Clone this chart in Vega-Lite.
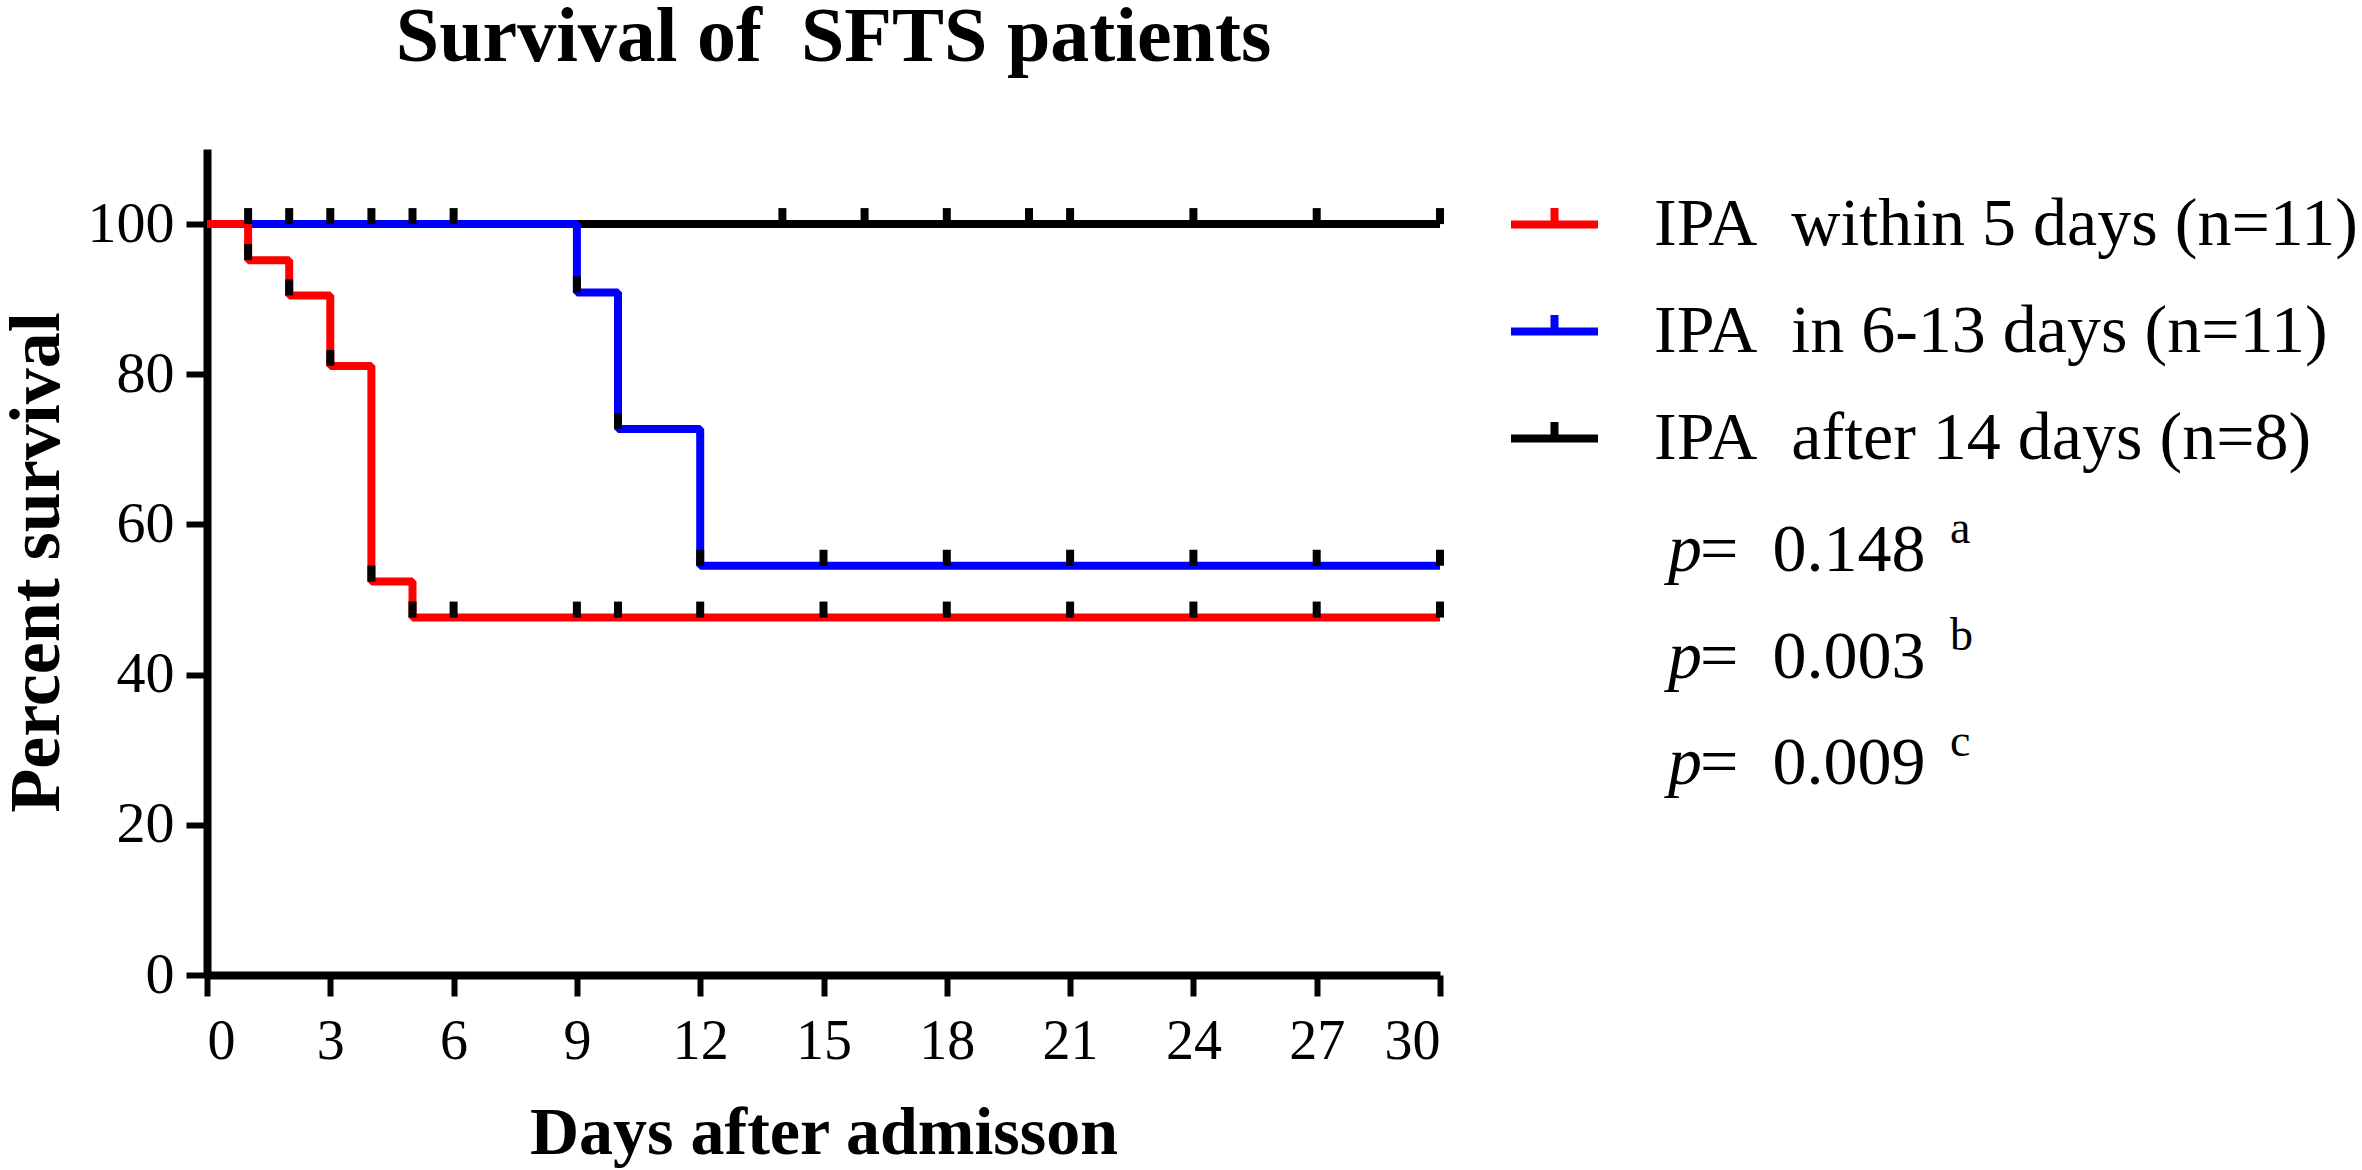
{
  "$schema": "https://vega.github.io/schema/vega-lite/v6.json",
  "autosize": {"type": "none"},
  "padding": {"left": 207, "top": 149, "right": 922, "bottom": 195},
  "width": 1233,
  "height": 826,
  "background": "white",
  "title": {
    "text": "Survival of\u00a0 SFTS patients",
    "font": "Liberation Serif",
    "fontSize": 78,
    "fontWeight": "bold",
    "color": "black",
    "anchor": "middle",
    "offset": 72,
    "dx": 10
  },
  "datasets": {
    "curves": [
      {"group": "IPA\u00a0 after 14 days (n=8)", "day": 0, "survival": 100},
      {"group": "IPA\u00a0 after 14 days (n=8)", "day": 30, "survival": 100},
      {"group": "IPA\u00a0 in 6-13 days (n=11)", "day": 0, "survival": 100},
      {"group": "IPA\u00a0 in 6-13 days (n=11)", "day": 9, "survival": 90.9},
      {"group": "IPA\u00a0 in 6-13 days (n=11)", "day": 10, "survival": 72.7},
      {"group": "IPA\u00a0 in 6-13 days (n=11)", "day": 12, "survival": 54.5},
      {"group": "IPA\u00a0 in 6-13 days (n=11)", "day": 30, "survival": 54.5},
      {"group": "IPA\u00a0 within 5 days (n=11)", "day": 0, "survival": 100},
      {"group": "IPA\u00a0 within 5 days (n=11)", "day": 1, "survival": 95.2},
      {"group": "IPA\u00a0 within 5 days (n=11)", "day": 2, "survival": 90.5},
      {"group": "IPA\u00a0 within 5 days (n=11)", "day": 3, "survival": 81.1},
      {"group": "IPA\u00a0 within 5 days (n=11)", "day": 4, "survival": 52.4},
      {"group": "IPA\u00a0 within 5 days (n=11)", "day": 5, "survival": 47.6},
      {"group": "IPA\u00a0 within 5 days (n=11)", "day": 30, "survival": 47.6}
    ],
    "censored": [
      {"group": "within", "day": 1, "survival": 95.2},
      {"group": "within", "day": 2, "survival": 90.5},
      {"group": "within", "day": 3, "survival": 81.1},
      {"group": "within", "day": 4, "survival": 52.4},
      {"group": "within", "day": 5, "survival": 47.6},
      {"group": "within", "day": 6, "survival": 47.6},
      {"group": "within", "day": 9, "survival": 47.6},
      {"group": "within", "day": 10, "survival": 47.6},
      {"group": "within", "day": 12, "survival": 47.6},
      {"group": "within", "day": 15, "survival": 47.6},
      {"group": "within", "day": 18, "survival": 47.6},
      {"group": "within", "day": 21, "survival": 47.6},
      {"group": "within", "day": 24, "survival": 47.6},
      {"group": "within", "day": 27, "survival": 47.6},
      {"group": "within", "day": 30, "survival": 47.6},
      {"group": "in", "day": 1, "survival": 100},
      {"group": "in", "day": 2, "survival": 100},
      {"group": "in", "day": 3, "survival": 100},
      {"group": "in", "day": 4, "survival": 100},
      {"group": "in", "day": 5, "survival": 100},
      {"group": "in", "day": 6, "survival": 100},
      {"group": "in", "day": 9, "survival": 90.9},
      {"group": "in", "day": 10, "survival": 72.7},
      {"group": "in", "day": 12, "survival": 54.5},
      {"group": "in", "day": 15, "survival": 54.5},
      {"group": "in", "day": 18, "survival": 54.5},
      {"group": "in", "day": 21, "survival": 54.5},
      {"group": "in", "day": 24, "survival": 54.5},
      {"group": "in", "day": 27, "survival": 54.5},
      {"group": "in", "day": 30, "survival": 54.5},
      {"group": "after", "day": 14, "survival": 100},
      {"group": "after", "day": 16, "survival": 100},
      {"group": "after", "day": 18, "survival": 100},
      {"group": "after", "day": 20, "survival": 100},
      {"group": "after", "day": 21, "survival": 100},
      {"group": "after", "day": 24, "survival": 100},
      {"group": "after", "day": 27, "survival": 100},
      {"group": "after", "day": 30, "survival": 100}
    ],
    "pvalues": [
      {"key": "a", "value": "=\u00a0 0.148"},
      {"key": "b", "value": "=\u00a0 0.003"},
      {"key": "c", "value": "=\u00a0 0.009"}
    ]
  },
  "layer": [
    {
      "layer": [
        {
          "data": {"name": "curves"},
          "mark": {"type": "line", "interpolate": "step-after", "strokeWidth": 8, "strokeJoin": "bevel", "strokeCap": "butt", "clip": false},
          "encoding": {
            "x": {
              "field": "day", "type": "quantitative",
              "scale": {"domain": [0, 30], "nice": false},
              "axis": {
                "values": [0, 3, 6, 9, 12, 15, 18, 21, 24, 27, 30],
                "title": "Days after admisson",
                "labelFontSize": 56,
                "labelPadding": 18,
                "titleFontSize": 68,
                "titlePadding": 30
              }
            },
            "y": {
              "field": "survival", "type": "quantitative",
              "scale": {"domain": [0, 110], "nice": false},
              "axis": {
                "values": [0, 20, 40, 60, 80, 100],
                "title": "Percent survival",
                "labelFontSize": 58,
                "labelPadding": 12,
                "titleFontSize": 72,
                "titlePadding": 14
              }
            },
            "color": {
              "field": "group", "type": "nominal",
              "scale": {
                "domain": ["IPA\u00a0 within 5 days (n=11)", "IPA\u00a0 in 6-13 days (n=11)", "IPA\u00a0 after 14 days (n=8)"],
                "range": ["#ff0000", "#0000ff", "#000000"]
              },
              "legend": {
                "orient": "none",
                "legendX": 1300,
                "legendY": 28,
                "title": null,
                "padding": 0,
                "symbolType": "M-1,0H1M0,0V-0.38",
                "symbolSize": 7569,
                "symbolStrokeWidth": 8,
                "labelFont": "Liberation Serif",
                "labelFontSize": 68,
                "labelColor": "black",
                "labelOffset": 52,
                "labelLimit": 1200,
                "rowPadding": 25
              }
            }
          }
        },
        {
          "data": {"name": "censored"},
          "mark": {"type": "tick", "orient": "vertical", "size": 16, "thickness": 8, "yOffset": -8, "color": "black", "opacity": 1, "clip": false},
          "encoding": {
            "x": {"field": "day", "type": "quantitative"},
            "y": {"field": "survival", "type": "quantitative"}
          }
        }
      ]
    },
    {
      "data": {"name": "pvalues"},
      "encoding": {
        "x": {"datum": 35.55, "type": "quantitative"},
        "y": {
          "field": "key", "type": "nominal",
          "scale": {"type": "point", "domain": ["a", "b", "c"], "range": [422, 635], "padding": 0},
          "axis": null
        }
      },
      "layer": [
        {
          "mark": {"type": "text", "text": "p", "font": "Liberation Serif", "fontStyle": "italic", "fontSize": 68, "align": "left", "baseline": "alphabetic", "color": "black"}
        },
        {
          "mark": {"type": "text", "font": "Liberation Serif", "fontSize": 68, "align": "left", "baseline": "alphabetic", "color": "black", "dx": 32},
          "encoding": {"text": {"field": "value"}}
        },
        {
          "mark": {"type": "text", "font": "Liberation Serif", "fontSize": 46, "align": "left", "baseline": "alphabetic", "color": "black", "dx": 282, "dy": -28},
          "encoding": {"text": {"field": "key"}}
        }
      ]
    }
  ],
  "resolve": {"scale": {"y": "independent"}},
  "config": {
    "view": {"stroke": null},
    "axis": {
      "grid": false,
      "domainColor": "black",
      "domainWidth": 8,
      "tickColor": "black",
      "tickWidth": 6,
      "tickSize": 21,
      "labelFont": "Liberation Serif",
      "labelColor": "black",
      "titleFont": "Liberation Serif",
      "titleFontWeight": "bold",
      "titleColor": "black"
    }
  }
}
